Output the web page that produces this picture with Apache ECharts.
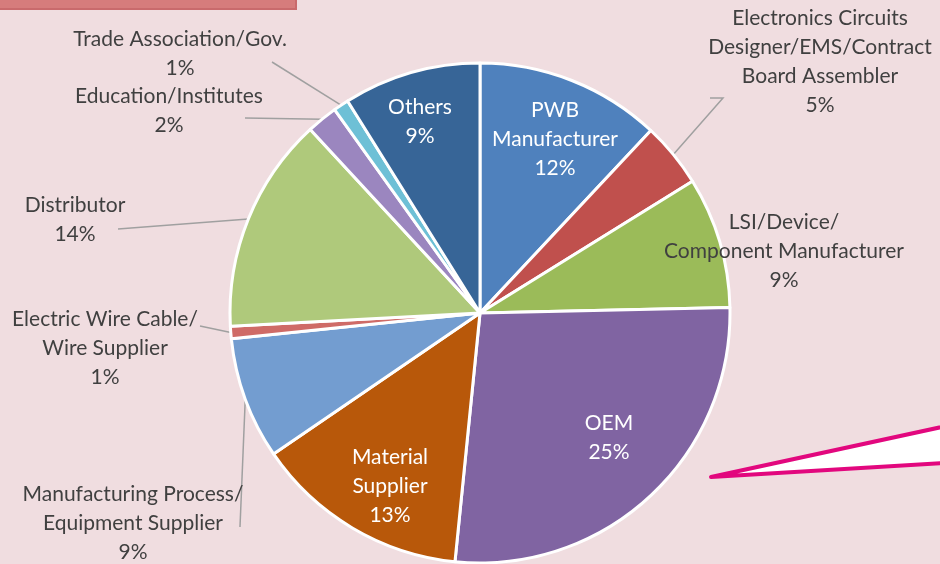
<!DOCTYPE html>
<html>
<head>
<meta charset="utf-8">
<script src="https://cdn.jsdelivr.net/npm/echarts@6/dist/echarts.min.js"></script>
<style>
    html, body { margin: 0; padding: 0; background: #f0dde0; }
    #chart { width: 940px; height: 564px; }
</style>
</head>
<body>
<div id="chart"></div>
<script>
// 类目（按顺时针，从12点方向开始）
const categories = [
    'PWB\nManufacturer',
    'Electronics Circuits\nDesigner/EMS/Contract\nBoard Assembler',
    'LSI/Device/\nComponent Manufacturer',
    'OEM',
    'Material\nSupplier',
    'Manufacturing Process/\nEquipment Supplier',
    'Electric Wire Cable/\nWire Supplier',
    'Distributor',
    'Education/Institutes',
    'Trade Association/Gov.',
    'Others'
];
// 扇区大小（按图上角度读取）
const shares = [12, 4.2, 8.5, 27, 13.9, 7.9, 0.8, 14, 2, 1, 8.9];
// 图上标注的百分比
const pctLabels = ['12%', '5%', '9%', '25%', '13%', '9%', '1%', '14%', '2%', '1%', '9%'];

const colors = ['#4f81bd', '#c0504d', '#9bbb59', '#8064a2', '#b8580a', '#739dd0',
    '#cf6b67', '#afc97b', '#9b86bf', '#6ec0d6', '#376597'];
const inside = [true, false, false, true, true, false, false, false, false, false, true];
// 标签中心位置
const labelPos = [[555, 139], [820, 62], [784, 251], [609, 438], [390, 486], [133, 523],
    [105, 348], [75, 220], [169, 111], [180, 54], [420, 122]];
// 引导线末端
const lineEnds = [null, [[723, 98], [710, 98]], null, null, null, [[240, 527]],
    [[200, 326]], [[118, 229]], [[245, 118]], [[272, 62]], null];

const CX = 480, CY = 313, R = 250;
const total = shares.reduce((a, b) => a + b, 0);

function midPoint(idx) {
    let acc = 0;
    for (let i = 0; i < idx; i++) acc += shares[i];
    const ang = (acc + shares[idx] / 2) / total * Math.PI * 2;
    return [CX + R * Math.sin(ang), CY - R * Math.cos(ang)];
}

const chart = echarts.init(document.getElementById('chart'));

const option = {
    backgroundColor: '#f0dde0',
    textStyle: { fontFamily: 'Lato' },
    graphic: [
        {
            type: 'rect',
            shape: { x: -5, y: -20, width: 301, height: 29 },
            style: { fill: '#d67c7c', stroke: '#c96a6c', lineWidth: 2 }
        },
        {
            type: 'polygon',
            shape: { points: [[711, 477], [960, 423], [960, 462]] },
            style: { fill: '#ffffff', stroke: '#e2077e', lineWidth: 4, lineJoin: 'round' }
        }
    ],
    series: [
        {
            type: 'pie',
            center: [CX, CY],
            radius: R,
            startAngle: 90,
            clockwise: true,
            silent: true,
            itemStyle: { borderColor: '#ffffff', borderWidth: 3 },
            label: {
                show: true,
                fontSize: 21,
                lineHeight: 29,
                color: '#404040',
                align: 'center',
                overflow: 'none'
            },
            labelLine: {
                show: true,
                lineStyle: { color: '#a0a0a0', width: 1.5 }
            },
            labelLayout: function (params) {
                const i = params.dataIndex;
                const res = {
                    x: labelPos[i][0],
                    y: labelPos[i][1],
                    align: 'center',
                    verticalAlign: 'middle'
                };
                if (lineEnds[i]) {
                    const start = params.labelLinePoints ? params.labelLinePoints[0] : midPoint(i);
                    res.labelLinePoints = [start].concat(lineEnds[i]);
                }
                return res;
            },
            data: categories.map((name, i) => ({
                name: name,
                value: shares[i],
                itemStyle: { color: colors[i] },
                label: {
                    position: inside[i] ? 'inside' : 'outside',
                    color: inside[i] ? '#ffffff' : '#404040',
                    overflow: 'none',
                    width: 400,
                    formatter: name + '\n' + pctLabels[i]
                },
                labelLine: { show: !!lineEnds[i] }
            }))
        }
    ]
};

chart.setOption(option);
</script>
</body>
</html>
